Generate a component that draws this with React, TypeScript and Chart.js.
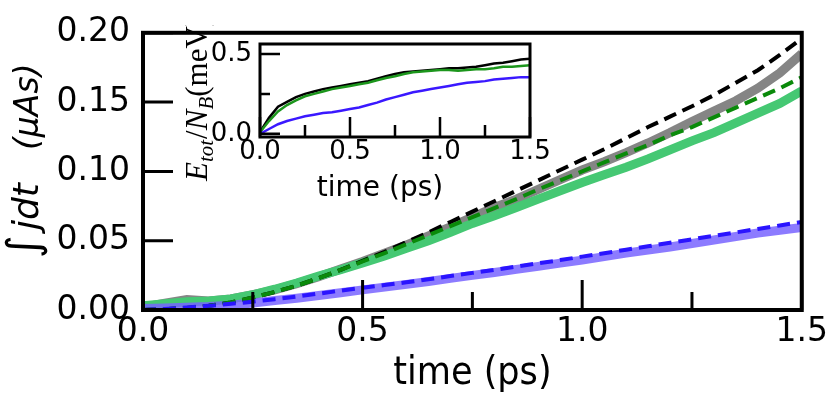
import React, { useEffect, useRef } from 'react';
import { Chart, registerables } from 'chart.js';

Chart.register(...registerables);

// ---- data ----
const timePs = [
  0, 0.05, 0.1, 0.15, 0.2, 0.25, 0.3, 0.35, 0.4, 0.45, 0.5, 0.55, 0.6, 0.65, 0.7, 0.75,
  0.8, 0.85, 0.9, 0.95, 1.0, 1.05, 1.1, 1.15, 1.2, 1.25, 1.3, 1.35, 1.4, 1.45, 1.5,
];

// main panel: integrated current (µAs)
const graySim = [
  0.002, 0.005, 0.0075, 0.0065, 0.008, 0.011, 0.0145, 0.019, 0.024, 0.0295, 0.035, 0.041, 0.047, 0.0535, 0.06, 0.067,
  0.074, 0.08, 0.087, 0.094, 0.101, 0.107, 0.1135, 0.1205, 0.128, 0.136, 0.1435, 0.151, 0.16, 0.171, 0.185,
];
const blackFit = [
  0, 0.0005, 0.0015, 0.003, 0.0055, 0.009, 0.013, 0.0175, 0.023, 0.029, 0.0355, 0.042, 0.049, 0.056, 0.0635, 0.071,
  0.0785, 0.086, 0.0935, 0.101, 0.1085, 0.116, 0.124, 0.132, 0.1395, 0.147, 0.155, 0.164, 0.173, 0.184, 0.196,
];
const greenSim = [
  0.003, 0.0045, 0.006, 0.0065, 0.008, 0.011, 0.015, 0.0195, 0.0245, 0.029, 0.034, 0.039, 0.0445, 0.05, 0.056, 0.0625,
  0.068, 0.074, 0.08, 0.086, 0.092, 0.0975, 0.103, 0.109, 0.1155, 0.122, 0.128, 0.135, 0.142, 0.149, 0.158,
];
const greenFit = [
  0, 0.0005, 0.0015, 0.003, 0.0055, 0.009, 0.013, 0.0175, 0.023, 0.029, 0.035, 0.041, 0.0475, 0.054, 0.0605, 0.067,
  0.0735, 0.08, 0.087, 0.0935, 0.1, 0.1065, 0.113, 0.119, 0.126, 0.132, 0.139, 0.146, 0.153, 0.16, 0.168,
];
const blueSim = [
  0.001, 0.0015, 0.002, 0.0025, 0.0035, 0.005, 0.0068, 0.0085, 0.0105, 0.0125, 0.0145, 0.0165, 0.0185, 0.0205, 0.0228, 0.025,
  0.027, 0.0293, 0.0315, 0.0338, 0.036, 0.0385, 0.041, 0.0433, 0.0455, 0.048, 0.0505, 0.053, 0.0555, 0.0575, 0.0595,
];
const blueFit = [
  0, 0.0008, 0.0018, 0.003, 0.0045, 0.006, 0.0078, 0.0097, 0.0118, 0.014, 0.016, 0.018, 0.02, 0.0222, 0.0245, 0.0268,
  0.029, 0.0313, 0.0337, 0.036, 0.0385, 0.041, 0.0435, 0.046, 0.0485, 0.051, 0.0535, 0.056, 0.0585, 0.061, 0.0635,
];

// inset: E_tot / N_B (meV)
const insetBlack = [
  0.01, 0.1, 0.17, 0.2, 0.23, 0.25, 0.265, 0.28, 0.29, 0.3, 0.31, 0.32, 0.33, 0.345, 0.36, 0.375,
  0.385, 0.39, 0.395, 0.4, 0.405, 0.41, 0.41, 0.415, 0.42, 0.43, 0.44, 0.445, 0.455, 0.465, 0.47,
];
const insetGreen = [
  0.01, 0.08, 0.14, 0.18, 0.21, 0.235, 0.25, 0.265, 0.28, 0.29, 0.3, 0.31, 0.32, 0.335, 0.35, 0.36,
  0.375, 0.385, 0.39, 0.395, 0.4, 0.4, 0.395, 0.4, 0.405, 0.405, 0.41, 0.42, 0.42, 0.425, 0.43,
];
const insetBlue = [
  0, 0.03, 0.06, 0.08, 0.095, 0.11, 0.12, 0.13, 0.135, 0.145, 0.155, 0.165, 0.18, 0.195, 0.215, 0.23,
  0.245, 0.26, 0.27, 0.28, 0.29, 0.3, 0.31, 0.32, 0.325, 0.33, 0.34, 0.345, 0.35, 0.355, 0.355,
];

// tick values
const mainXMajor = [0, 0.5, 1.0, 1.5];
const mainXMinor = [0.25, 0.75, 1.25];
const mainYMajor = [0, 0.05, 0.1, 0.15, 0.2];
const insetXMajor = [0, 0.5, 1.0, 1.5];
const insetXMinor = [0.25, 0.75, 1.25];
const insetYMajor = [0, 0.5];
const insetYMinor = [0.25];

const W = 831;
const H = 393;

const pts = (ys: number[]) => timePs.map((t, i) => ({ x: t, y: ys[i] }));

function framePlugin(cfg: any) {
  return {
    id: 'frameTicks',
    afterDatasetsDraw(chart: any) {
      const { ctx, chartArea: a, scales } = chart;
      const xs = scales.x;
      const ys = scales.y;
      ctx.save();
      ctx.strokeStyle = '#000';
      ctx.lineCap = 'butt';
      ctx.lineWidth = cfg.tickWidth;
      ctx.beginPath();
      cfg.xMajor.forEach((v: number) => {
        const p = xs.getPixelForValue(v);
        ctx.moveTo(p, a.bottom);
        ctx.lineTo(p, a.bottom - cfg.majorLen);
      });
      cfg.xMinor.forEach((v: number) => {
        const p = xs.getPixelForValue(v);
        ctx.moveTo(p, a.bottom);
        ctx.lineTo(p, a.bottom - cfg.minorLen);
      });
      cfg.yMajor.forEach((v: number) => {
        const p = ys.getPixelForValue(v);
        ctx.moveTo(a.left, p);
        ctx.lineTo(a.left + cfg.majorLen, p);
      });
      cfg.yMinor.forEach((v: number) => {
        const p = ys.getPixelForValue(v);
        ctx.moveTo(a.left, p);
        ctx.lineTo(a.left + cfg.yMinorLen, p);
      });
      ctx.stroke();
      ctx.lineWidth = cfg.frameWidth;
      ctx.strokeRect(a.left, a.top, a.right - a.left, a.bottom - a.top);
      ctx.restore();
    },
  };
}

const mainTitles = {
  id: 'mainTitles',
  afterDraw(chart: any) {
    const { ctx, chartArea: a } = chart;
    ctx.save();
    ctx.fillStyle = '#000';
    // x title
    ctx.save();
    ctx.translate((a.left + a.right) / 2, 384);
    ctx.scale(0.9, 1);
    ctx.font = '39px "DejaVu Sans"';
    ctx.textAlign = 'center';
    ctx.textBaseline = 'alphabetic';
    ctx.fillText('time (ps)', 0, 0);
    ctx.restore();
    // y title (rotated)
    ctx.save();
    ctx.translate(38, 258);
    ctx.rotate(-Math.PI / 2);
    ctx.textAlign = 'left';
    ctx.textBaseline = 'alphabetic';
    ctx.font = '44px "DejaVu Sans"';
    ctx.fillText('\u222B', 0, 0);
    ctx.font = 'italic 36px "DejaVu Sans"';
    ctx.fillText('jdt', 28, 0);
    ctx.font = 'italic 33px "DejaVu Sans"';
    ctx.fillText('(\u03BCAs)', 108, 0);
    ctx.restore();
    ctx.restore();
  },
};

const insetTitles = {
  id: 'insetTitles',
  afterDraw(chart: any) {
    const { ctx } = chart;
    ctx.save();
    ctx.fillStyle = '#000';
    ctx.font = '28px "DejaVu Sans"';
    ctx.textAlign = 'center';
    ctx.textBaseline = 'alphabetic';
    ctx.fillText('time (ps)', 380, 196);
    // rotated y title, clipped at the main frame top
    ctx.beginPath();
    ctx.rect(0, 25, W, H);
    ctx.clip();
    ctx.translate(207, 181);
    ctx.rotate(-Math.PI / 2);
    ctx.textAlign = 'left';
    let x = 0;
    const seg = (txt: string, font: string, dy: number) => {
      ctx.font = font;
      ctx.fillText(txt, x, dy);
      x += ctx.measureText(txt).width;
    };
    seg('E', 'italic 31px "Liberation Serif"', 0);
    seg('tot', 'italic 21px "Liberation Serif"', 6);
    x += 1;
    seg('/', '31px "Liberation Serif"', 0);
    seg('N', 'italic 31px "Liberation Serif"', 0);
    seg('B', 'italic 21px "Liberation Serif"', 6);
    seg('(meV)', '31px "Liberation Serif"', 0);
    ctx.restore();
  },
};

export default function App() {
  const mainRef = useRef<HTMLCanvasElement>(null);
  const insetRef = useRef<HTMLCanvasElement>(null);

  useEffect(() => {
    document.body.style.margin = '0';
    Chart.defaults.font.family = '"DejaVu Sans"';
    Chart.defaults.color = '#000';

    const thick = 9;
    const dashW = 4;
    const dash = [13, 7];
    const lineDs = (label: string, ys: number[], color: string, width: number, d: number[] = []) => ({
      label,
      data: pts(ys),
      borderColor: color,
      backgroundColor: color,
      borderWidth: width,
      borderDash: d,
      pointRadius: 0,
      tension: 0,
      fill: false,
      borderCapStyle: 'butt' as const,
    });

    const main = new Chart(mainRef.current!, {
      type: 'line',
      data: {
        datasets: [
          lineDs('blue fit', blueFit, '#2a14ff', dashW, dash),
          lineDs('green fit', greenFit, '#0a8a0a', dashW, dash),
          lineDs('black fit', blackFit, '#000000', dashW, dash),
          lineDs('blue sim', blueSim, 'rgba(120,100,255,0.85)', thick),
          lineDs('green sim', greenSim, '#45c873', thick),
          lineDs('gray sim', graySim, '#858585', thick),
        ],
      },
      options: {
        animation: false,
        responsive: false,
        events: [],
        layout: { padding: { left: 0, top: 23, right: 28, bottom: 0 } },
        plugins: { legend: { display: false }, tooltip: { enabled: false } },
        scales: {
          x: {
            type: 'linear',
            min: 0,
            max: 1.5,
            grid: { display: false, drawTicks: false },
            border: { display: false },
            ticks: {
              stepSize: 0.5,
              autoSkip: false,
              maxRotation: 0,
              padding: 3,
              font: { size: 33 },
              callback: (v: any) => Number(v).toFixed(1),
            },
            afterFit: (s: any) => { s.height = 83; },
          },
          y: {
            type: 'linear',
            min: 0,
            max: 0.2,
            grid: { display: false, drawTicks: false },
            border: { display: false },
            ticks: {
              stepSize: 0.05,
              autoSkip: false,
              padding: 13,
              font: { size: 33 },
              callback: (v: any) => Number(v).toFixed(2),
            },
            afterFit: (s: any) => { s.width = 143; },
          },
        },
      },
      plugins: [
        framePlugin({
          xMajor: mainXMajor, xMinor: mainXMinor, yMajor: mainYMajor, yMinor: [],
          majorLen: 30, minorLen: 18, yMinorLen: 15, tickWidth: 3, frameWidth: 4,
        }),
        mainTitles,
      ],
    } as any);

    const inset = new Chart(insetRef.current!, {
      type: 'line',
      data: {
        datasets: [
          lineDs('blue', insetBlue, '#3a18ff', 2.5),
          lineDs('green', insetGreen, '#1c961c', 2.5),
          lineDs('black', insetBlack, '#000000', 2.5),
        ],
      },
      options: {
        animation: false,
        responsive: false,
        events: [],
        layout: { padding: { left: 200, top: 44, right: 301, bottom: 216 } },
        plugins: { legend: { display: false }, tooltip: { enabled: false } },
        scales: {
          x: {
            type: 'linear',
            min: 0,
            max: 1.5,
            grid: { display: false, drawTicks: false },
            border: { display: false },
            ticks: {
              stepSize: 0.5,
              autoSkip: false,
              maxRotation: 0,
              padding: 0,
              font: { size: 26 },
              callback: (v: any) => Number(v).toFixed(1),
            },
            afterFit: (s: any) => { s.height = 40; },
          },
          y: {
            type: 'linear',
            min: -0.02,
            max: 0.5625,
            grid: { display: false, drawTicks: false },
            border: { display: false },
            afterBuildTicks: (s: any) => { s.ticks = insetYMajor.map((v) => ({ value: v })); },
            ticks: {
              autoSkip: false,
              padding: 8,
              font: { size: 26 },
              callback: (v: any) => Number(v).toFixed(1),
            },
            afterFit: (s: any) => { s.width = 60; },
          },
        },
      },
      plugins: [
        framePlugin({
          xMajor: insetXMajor, xMinor: insetXMinor, yMajor: insetYMajor, yMinor: insetYMinor,
          majorLen: 20, minorLen: 12, yMinorLen: 10, tickWidth: 2.5, frameWidth: 3,
        }),
        insetTitles,
      ],
    } as any);

    return () => {
      main.destroy();
      inset.destroy();
    };
  }, []);

  return (
    <div style={{ position: 'fixed', left: 0, top: 0, width: W, height: H, background: '#fff' }}>
      <canvas ref={mainRef} width={W} height={H} style={{ position: 'absolute', left: 0, top: 0, width: W, height: H }} />
      <canvas ref={insetRef} width={W} height={H} style={{ position: 'absolute', left: 0, top: 0, width: W, height: H }} />
    </div>
  );
}
